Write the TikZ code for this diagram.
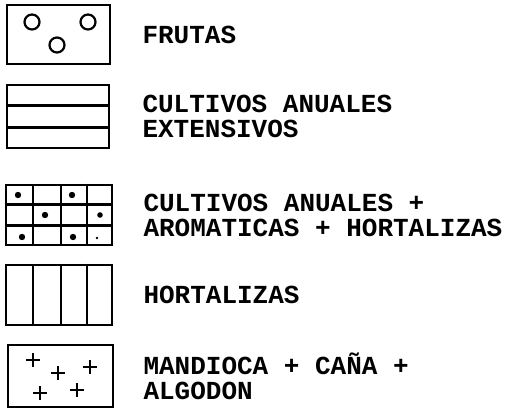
\documentclass[tikz,border=0pt]{standalone}
\usepackage{fontspec}
\setmonofont{Liberation Mono}
\usetikzlibrary{positioning, calc}

\begin{document}
\begin{tikzpicture}[x=1pt, y=-1pt,
    legbox/.style={draw, line width=2.6pt, inner sep=0pt},
    lbl/.style={inner sep=0pt, align=left,
                font=\ttfamily\bfseries\fontsize{26}{25}\selectfont},
    div/.style={line width=2.4pt},
    plus/.style={line width=2.8pt}
  ]
  \useasboundingbox (0,0) rectangle (508,412);

  % legend boxes
  \node[legbox, minimum width=103pt, minimum height=59pt] (fru) at (58.5,34.5) {};
  \node[legbox, minimum width=102pt, minimum height=63pt] (ext) at (58,116.5) {};
  \node[legbox, minimum width=106pt, minimum height=60pt] (aro) at (59,215) {};
  \node[legbox, minimum width=106pt, minimum height=60pt] (hor) at (59,295) {};
  \node[legbox, minimum width=105pt, minimum height=62pt] (man) at (60.5,376) {};

  % fillings
  \draw[line width=2.2pt] (32,22) circle[radius=7.5pt] (88,22) circle[radius=7.5pt]
    (57,45) circle[radius=7.5pt];

  \draw[div] ($(ext.north west)!1/3!(ext.south west)$) -- ($(ext.north east)!1/3!(ext.south east)$);
  \draw[div] ($(ext.north west)!2/3!(ext.south west)$) -- ($(ext.north east)!2/3!(ext.south east)$);

  \draw[div] ($(aro.north west)!1/3!(aro.south west)$) -- ($(aro.north east)!1/3!(aro.south east)$);
  \draw[div] ($(aro.north west)!2/3!(aro.south west)$) -- ($(aro.north east)!2/3!(aro.south east)$);
  \draw[div] (33,0 |- aro.north) -- (33,0 |- aro.south);
  \draw[div] (61,0 |- aro.north) -- (61,0 |- aro.south);
  \draw[div] (87,0 |- aro.north) -- (87,0 |- aro.south);
  \fill (18,195) circle[radius=3.2pt] (72,195) circle[radius=3.2pt]
    (45,215) circle[radius=3.2pt] (100,215) circle[radius=2.8pt]
    (22,237) circle[radius=3.2pt] (73,237) circle[radius=3.2pt]
    (97,238) circle[radius=1.4pt];

  \draw[div] (33,0 |- hor.north) -- (33,0 |- hor.south);
  \draw[div] (61,0 |- hor.north) -- (61,0 |- hor.south);
  \draw[div] (87,0 |- hor.north) -- (87,0 |- hor.south);

  \draw[plus] (26,360) -- (40,360) (33,353) -- (33,367);
  \draw[plus] (51,373) -- (65,373) (58,366) -- (58,380);
  \draw[plus] (83,367) -- (97,367) (90,360) -- (90,374);
  \draw[plus] (33,393) -- (47,393) (40,386) -- (40,400);
  \draw[plus] (70,390) -- (84,390) (77,383) -- (77,397);

  % labels
  \node[lbl, right=31pt of fru] (tfru) {FRUTAS};
  \node[lbl, right=32pt of ext] (text) {CULTIVOS ANUALES\\EXTENSIVOS};
  \node[lbl, right=30pt of aro] (taro) {CULTIVOS ANUALES +\\AROMATICAS + HORTALIZAS};
  \node[lbl, right=30pt of hor] (thor) {HORTALIZAS};
  \node[lbl, right=29pt of man] (tman) {MANDIOCA + CAÑA +\\ALGODON};
\end{tikzpicture}
\end{document}
